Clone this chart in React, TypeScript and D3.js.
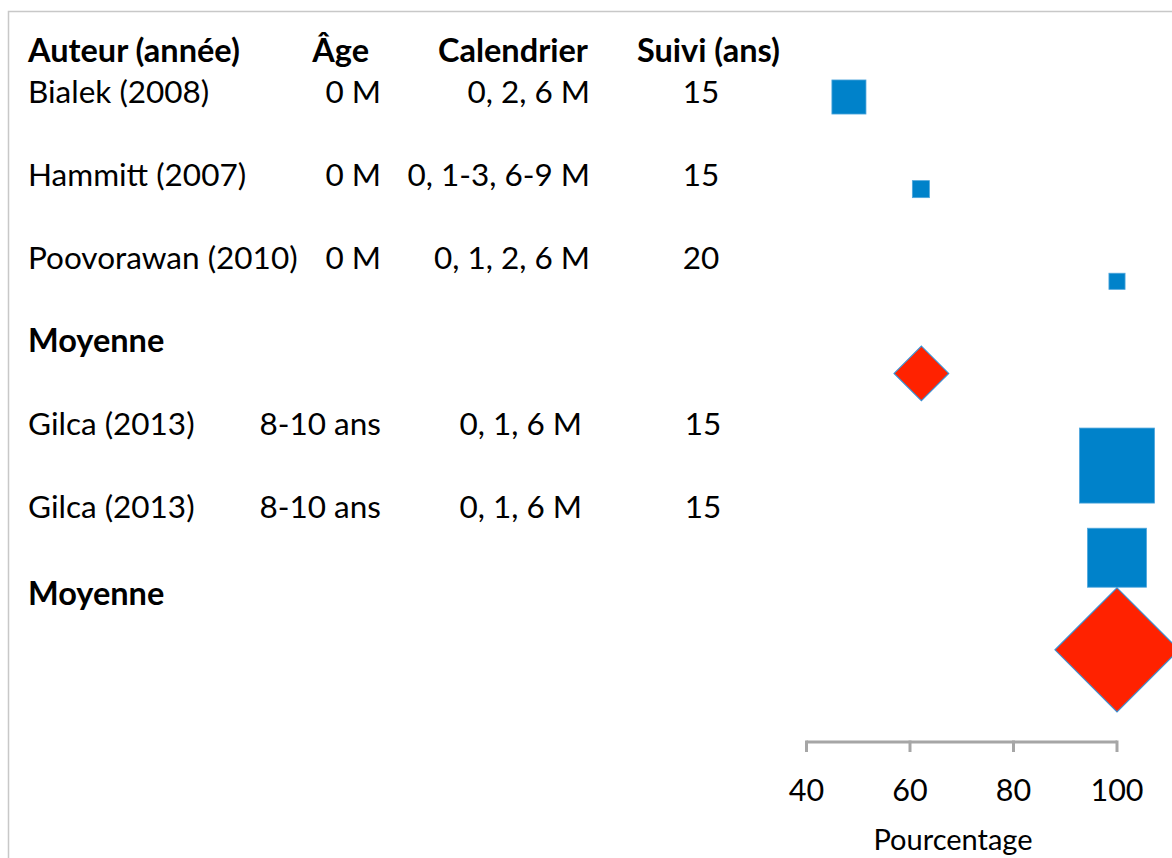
import React from "react";
import * as d3 from "d3";

// Études incluses (tableau à gauche)
const auteurs = [
  "Bialek (2008)",
  "Hammitt (2007)",
  "Poovorawan (2010)",
  "Moyenne",
  "Gilca (2013)",
  "Gilca (2013)",
  "Moyenne",
];
const ages = ["0 M", "0 M", "0 M", "", "8-10 ans", "8-10 ans", ""];
const calendriers = ["0, 2, 6 M", "0, 1-3, 6-9 M", "0, 1, 2, 6 M", "", "0, 1, 6 M", "0, 1, 6 M", ""];
const suivis = ["15", "15", "20", "", "15", "15", ""];
const estMoyenne = [false, false, false, true, false, false, true];

// Valeurs (%) et poids relatifs des marqueurs
const pourcentages = [48.2, 62.1, 100, 62.2, 100, 100, 100];
const poids = [11.6, 2.9, 2.6, 14.9, 56.3, 34.8, 76.9];

const enTetes = ["Auteur (année)", "Âge", "Calendrier", "Suivi (ans)"];
const graduations = [40, 60, 80, 100];
const titreAxe = "Pourcentage";

const W = 1172;
const H = 858;
const FONT = "Lato, 'Open Sans', sans-serif";
const BLEU = "#0082CA";
const ROUGE = "#FF2200";

export default function App() {
  const x = d3.scaleLinear().domain([40, 100]).range([806.5, 1117]);
  const yMarque = d3.scaleLinear().domain([0, 7]).range([97, 742]);
  const yTexte = d3.scaleLinear().domain([0, 6]).range([103, 601]);
  const taille = (w: number) => Math.sqrt(w) * 10;
  const axeY = yMarque(7);

  return (
    <svg
      width={W}
      height={H}
      viewBox={`0 0 ${W} ${H}`}
      style={{ position: "absolute", left: 0, top: 0, background: "#fff" }}
    >
      <rect x={8.5} y={11.5} width={W + 20} height={H + 20} fill="#fff" stroke="#C8C8C8" strokeWidth={1.5} />

      {/* En-têtes */}
      <g fontFamily={FONT} fontSize={32.5} fontWeight="bold" fill="#000">
        <text x={28} y={62}>{enTetes[0]}</text>
        <text x={369} y={62} textAnchor="end">{enTetes[1]}</text>
        <text x={588} y={62} textAnchor="end">{enTetes[2]}</text>
        <text x={780} y={62} textAnchor="end">{enTetes[3]}</text>
      </g>

      {/* Lignes du tableau */}
      <g fontFamily={FONT} fontSize={31.5} fill="#000">
        {auteurs.map((a, i) => {
          const y = yTexte(i) + (i === 6 ? 4 : 0);
          return (
            <g key={i}>
              <text
                x={28}
                y={y}
                fontWeight={estMoyenne[i] ? "bold" : "normal"}
                fontSize={estMoyenne[i] ? 32.5 : 31.5}
              >
                {a}
              </text>
              <text x={381} y={y} textAnchor="end">{ages[i]}</text>
              <text x={i >= 4 ? 582 : 590} y={y} textAnchor="end">{calendriers[i]}</text>
              <text x={i >= 4 ? 703 : 701} y={y} textAnchor="middle">{suivis[i]}</text>
            </g>
          );
        })}
      </g>

      {/* Marqueurs */}
      <g>
        {pourcentages.map((v, i) => {
          const cx = x(v);
          const cy = yMarque(i);
          const s = taille(poids[i]);
          if (estMoyenne[i]) {
            const r = s / Math.SQRT2;
            const pts = [
              [cx, cy - r],
              [cx + r, cy],
              [cx, cy + r],
              [cx - r, cy],
            ];
            return (
              <polygon
                key={i}
                points={pts.map((p) => p.join(",")).join(" ")}
                fill={ROUGE}
                stroke="#3B8FD0"
                strokeWidth={1.2}
              />
            );
          }
          return (
            <rect
              key={i}
              x={cx - s / 2}
              y={cy - s / 2}
              width={s}
              height={s}
              fill={BLEU}
              stroke="#4FA6DC"
              strokeWidth={0.8}
            />
          );
        })}
      </g>

      {/* Axe des x */}
      <g stroke="#A6A6A6" strokeWidth={3} fill="none">
        <line x1={x(40)} x2={x(100)} y1={axeY} y2={axeY} />
        {graduations.map((t) => (
          <line key={t} x1={x(t)} x2={x(t)} y1={axeY - 1.5} y2={axeY + 10} />
        ))}
      </g>
      <g fontFamily={FONT} fill="#000" textAnchor="middle">
        {graduations.map((t) => (
          <text key={t} x={x(t)} y={801} fontSize={30.5}>{t}</text>
        ))}
        <text x={953} y={850} fontSize={29}>{titreAxe}</text>
      </g>
    </svg>
  );
}
